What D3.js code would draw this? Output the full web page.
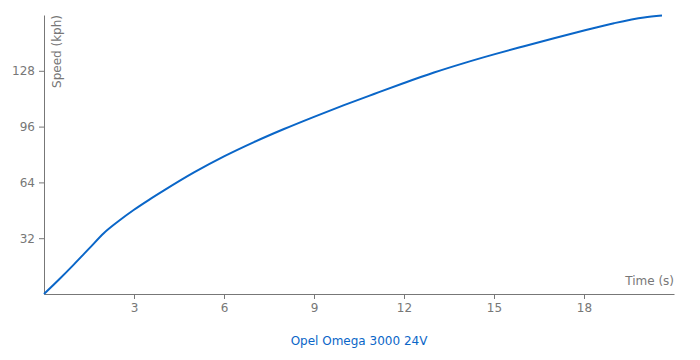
<!DOCTYPE html>
<html>
<head>
<meta charset="utf-8">
<script src="https://cdn.jsdelivr.net/npm/d3@7"></script>
<style>
  html, body { margin: 0; padding: 0; background: #fff; }
  svg text { font-family: "DejaVu Sans", sans-serif; }
</style>
</head>
<body>
<div id="chart"></div>
<script>
const carName = 'Opel Omega 3000 24V';
const times = [0, 0.5, 1, 1.5, 2, 2.5, 3, 3.5, 4, 5, 6, 7, 8, 9, 10, 11, 12, 13, 14, 15, 16, 17, 18, 19, 20, 20.6];
const speeds = [0, 8.3, 17, 26, 35, 42, 48.3, 54, 59.4, 69.7, 78.9, 87.1, 94.6, 101.6, 108.3, 114.7, 121, 127, 132.4, 137.4, 142.1, 146.7, 151.1, 155.3, 158.6, 159.7];
const xTicks = [3, 6, 9, 12, 15, 18];
const yTicks = [32, 64, 96, 128];

const width = 700, height = 360;
const margin = { top: 15, right: 26, bottom: 66, left: 44 };
const w = width - margin.left - margin.right;
const h = height - margin.top - margin.bottom;

const svg = d3.select('#chart').append('svg').attr('width', width).attr('height', height);
const g = svg.append('g').attr('transform', `translate(${margin.left},${margin.top})`);

const x = d3.scaleLinear().domain([0, 21]).range([0, w]);
const y = d3.scaleLinear().domain([0, 160]).range([h, 0]);

const data = times.map((t, i) => ({ t, v: speeds[i] }));

const xAxis = g.append('g').attr('transform', `translate(0,${h})`)
  .call(d3.axisBottom(x).tickValues(xTicks).tickSize(5).tickPadding(4).tickSizeOuter(0));
const yAxis = g.append('g')
  .call(d3.axisLeft(y).tickValues(yTicks).tickSize(5).tickPadding(4).tickSizeOuter(0));

[xAxis, yAxis].forEach(a => {
  a.select('.domain').attr('stroke', '#777');
  a.selectAll('.tick line').attr('stroke', '#777');
  a.selectAll('.tick text').attr('fill', '#777').style('font-size', '12px');
});

g.append('path')
  .datum(data)
  .attr('fill', 'none')
  .attr('stroke', '#0a66c8')
  .attr('stroke-width', 2)
  .attr('d', d3.line().x(d => x(d.t)).y(d => y(d.v)).curve(d3.curveMonotoneX));

g.append('text')
  .attr('x', w).attr('y', h - 9)
  .attr('text-anchor', 'end')
  .attr('fill', '#777').style('font-size', '12px')
  .text('Time (s)');

g.append('text')
  .attr('transform', `translate(17,0) rotate(-90)`)
  .attr('text-anchor', 'end')
  .attr('fill', '#777').style('font-size', '12px')
  .text('Speed (kph)');

svg.append('text')
  .attr('x', margin.left + w / 2).attr('y', 345)
  .attr('text-anchor', 'middle')
  .attr('fill', '#0a66c8').style('font-size', '12px')
  .text(carName);
</script>
</body>
</html>
